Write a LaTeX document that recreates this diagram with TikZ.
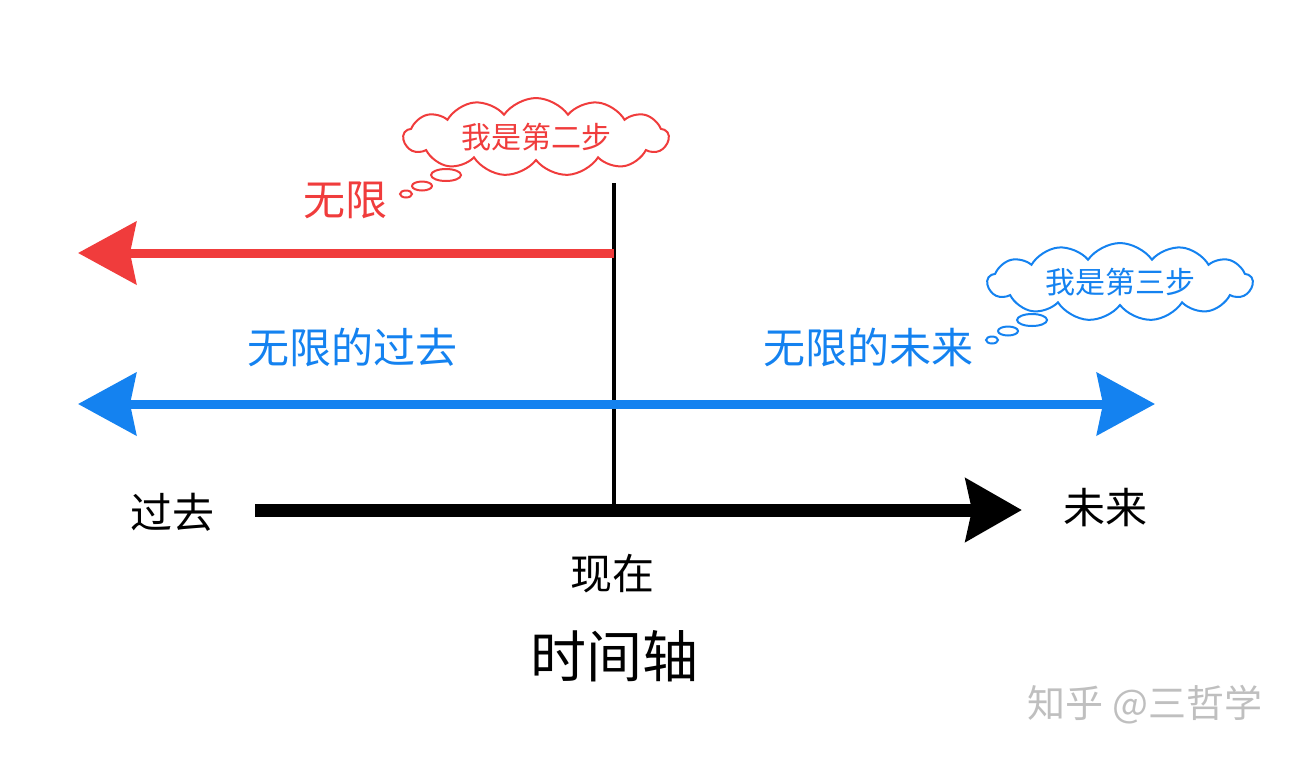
\documentclass[tikz,border=0pt]{standalone}
\usepackage{fontspec}
\setmainfont{Noto Sans CJK SC}
\usetikzlibrary{arrows.meta,shapes.symbols,shapes.geometric}
\definecolor{myred}{RGB}{240,60,60}
\definecolor{myblue}{RGB}{20,130,240}
\tikzset{
  lbl/.style={font=\fontsize{42}{42}\selectfont},
  thought/.style={cloud,cloud puffs=13,cloud puff arc=110,aspect=4,line width=2pt,fill=white,minimum width=265pt,minimum height=68pt,font=\fontsize{30}{30}\selectfont,inner sep=0pt},
  bub/.style={ellipse,line width=2pt,fill=white,inner sep=0pt},
}
\begin{document}
\begin{tikzpicture}[x=1pt,y=-1pt]
\useasboundingbox (0,0) rectangle (1297,756);
\coordinate (vt) at (614,183);
\coordinate (vb) at (614,505);
\draw[line width=4.5pt] (vt) -- (vb);
\coordinate (rs) at (614,253);
\coordinate (re) at (78,253);
\draw[myred,line width=9pt,-{Stealth[length=58pt,width=62pt,inset=6pt]}] (rs) -- (re);
\coordinate (bl) at (78,404);
\coordinate (br) at (1155,404);
\draw[myblue,line width=9pt,{Stealth[length=58pt,width=62pt,inset=6pt]}-{Stealth[length=58pt,width=62pt,inset=6pt]}] (bl) -- (br);
\coordinate (ks) at (255,510);
\coordinate (ke) at (1022,510);
\draw[line width=13pt,-{Stealth[length=56pt,width=62pt,inset=6pt]}] (ks) -- (ke);
\node[lbl,text=myred] (wx) at (345,200) {无限};
\node[lbl,text=myblue] (past) at (352,347) {无限的过去};
\node[lbl,text=myblue] (fut) at (868,347) {无限的未来};
\node[lbl] (gq) at (172,512) {过去};
\node[lbl] (wl) at (1105,508) {未来};
\node[lbl] (xz) at (612,574) {现在};
\node[font=\fontsize{56}{56}\selectfont] (sjz) at (614,656) {时间轴};
\node[font=\fontsize{38}{38}\selectfont,text=black!25] (wm) at (1145,705) {知乎 @三哲学};
\node[thought,draw=myred,text=myred] (c1) at (536,137) {我是第二步};
\node[bub,draw=myred,minimum width=30pt,minimum height=12pt] (r1) at (446,175) {};
\node[bub,draw=myred,minimum width=20pt,minimum height=9pt] (r2) at (422,186) {};
\node[bub,draw=myred,minimum width=12pt,minimum height=7pt] (r3) at (406,194) {};
\node[thought,draw=myblue,text=myblue] (c2) at (1120,282) {我是第三步};
\node[bub,draw=myblue,minimum width=30pt,minimum height=12pt] (b1) at (1032,320) {};
\node[bub,draw=myblue,minimum width=20pt,minimum height=9pt] (b2) at (1008,331) {};
\node[bub,draw=myblue,minimum width=12pt,minimum height=7pt] (b3) at (992,340) {};
\end{tikzpicture}
\end{document}
